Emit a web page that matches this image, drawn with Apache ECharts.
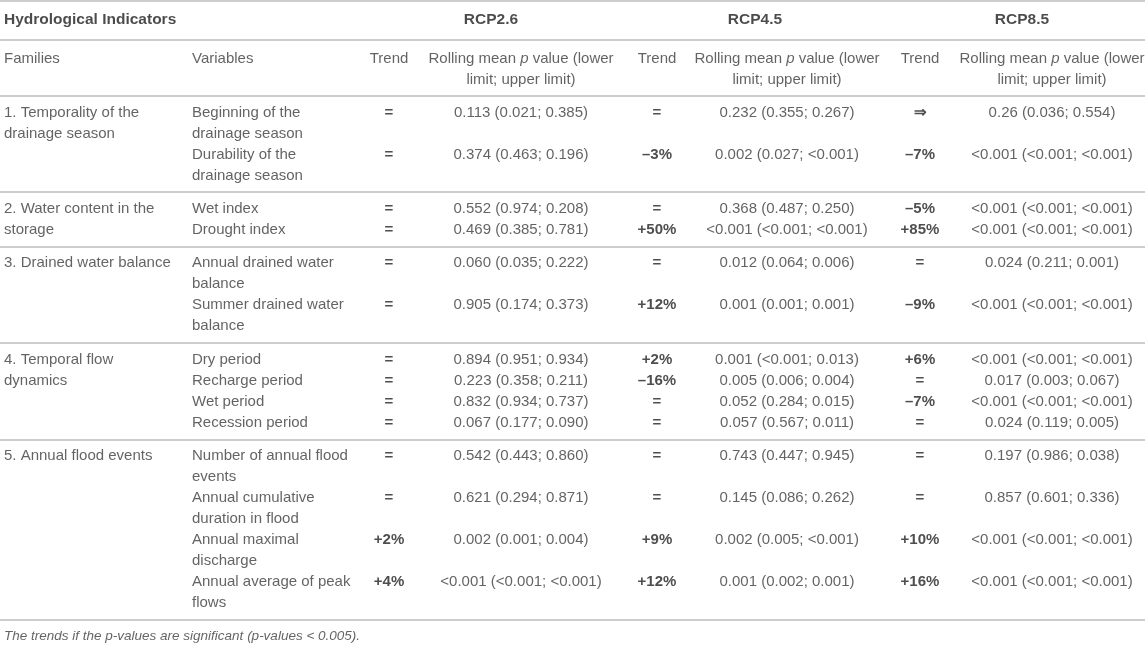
<!DOCTYPE html>
<html>
<head>
<meta charset="utf-8">
<script src="https://cdn.jsdelivr.net/npm/echarts@6/dist/echarts.min.js"></script>
<style>
  html, body { margin: 0; padding: 0; background: #fff; }
  #indicator-table { width: 1145px; height: 650px; }
</style>
</head>
<body>
<div id="indicator-table"></div>
<script>
var title_text = 'Hydrological Indicators';
var scenarios = ['RCP2.6', 'RCP4.5', 'RCP8.5'];
var column_heads = ['Families', 'Variables', 'Trend', 'Rolling mean {i|p} value (lower\nlimit; upper limit)'];

var families = [
  '1. Temporality of the\ndrainage season',
  '2. Water content in the\nstorage',
  '3. Drained water balance',
  '4. Temporal flow\ndynamics',
  '5. Annual flood events'
];
var variables = [
  'Beginning of the\ndrainage season', 'Durability of the\ndrainage season',
  'Wet index', 'Drought index',
  'Annual drained water\nbalance', 'Summer drained water\nbalance',
  'Dry period', 'Recharge period', 'Wet period', 'Recession period',
  'Number of annual flood\nevents', 'Annual cumulative\nduration in flood',
  'Annual maximal\ndischarge', 'Annual average of peak\nflows'
];
var family_of = [0, 0, 1, 1, 2, 2, 3, 3, 3, 3, 4, 4, 4, 4];

var trend_rcp26 = ['=', '=', '=', '=', '=', '=', '=', '=', '=', '=', '=', '=', '+2%', '+4%'];
var pvalue_rcp26 = [
  '0.113 (0.021; 0.385)', '0.374 (0.463; 0.196)',
  '0.552 (0.974; 0.208)', '0.469 (0.385; 0.781)',
  '0.060 (0.035; 0.222)', '0.905 (0.174; 0.373)',
  '0.894 (0.951; 0.934)', '0.223 (0.358; 0.211)', '0.832 (0.934; 0.737)', '0.067 (0.177; 0.090)',
  '0.542 (0.443; 0.860)', '0.621 (0.294; 0.871)', '0.002 (0.001; 0.004)', '<0.001 (<0.001; <0.001)'
];
var trend_rcp45 = ['=', '–3%', '=', '+50%', '=', '+12%', '+2%', '–16%', '=', '=', '=', '=', '+9%', '+12%'];
var pvalue_rcp45 = [
  '0.232 (0.355; 0.267)', '0.002 (0.027; <0.001)',
  '0.368 (0.487; 0.250)', '<0.001 (<0.001; <0.001)',
  '0.012 (0.064; 0.006)', '0.001 (0.001; 0.001)',
  '0.001 (<0.001; 0.013)', '0.005 (0.006; 0.004)', '0.052 (0.284; 0.015)', '0.057 (0.567; 0.011)',
  '0.743 (0.447; 0.945)', '0.145 (0.086; 0.262)', '0.002 (0.005; <0.001)', '0.001 (0.002; 0.001)'
];
var trend_rcp85 = ['⇒', '–7%', '–5%', '+85%', '=', '–9%', '+6%', '=', '–7%', '=', '=', '=', '+10%', '+16%'];
var pvalue_rcp85 = [
  '0.26 (0.036; 0.554)', '<0.001 (<0.001; <0.001)',
  '<0.001 (<0.001; <0.001)', '<0.001 (<0.001; <0.001)',
  '0.024 (0.211; 0.001)', '<0.001 (<0.001; <0.001)',
  '<0.001 (<0.001; <0.001)', '0.017 (0.003; 0.067)', '<0.001 (<0.001; <0.001)', '0.024 (0.119; 0.005)',
  '0.197 (0.986; 0.038)', '0.857 (0.601; 0.336)', '<0.001 (<0.001; <0.001)', '<0.001 (<0.001; <0.001)'
];
var footnote = 'The trends if the p-values are significant (p-values < 0.005).';

function draw_indicator_table() {
  var dom = document.getElementById('indicator-table');
  var chart = echarts.init(dom);

  // layout (pixels across, line units down)
  var line_h = 21;
  var pad = 0.795;
  var col_family = 4, col_variable = 192;
  var col_trend = [389, 657, 920];
  var col_value = [521, 787, 1052];
  var col_scenario = [491, 755, 1022];
  var trends = [trend_rcp26, trend_rcp45, trend_rcp85];
  var pvalues = [pvalue_rcp26, pvalue_rcp45, pvalue_rcp85];

  var font = 'Liberation Sans, Arial, Helvetica, sans-serif';
  var size = 15;
  var styles = {
    head: { align: 'left', fontWeight: 'bold', color: '#1e1e1e', fontSize: 15.5 },
    head_c: { align: 'center', fontWeight: 'bold', color: '#1e1e1e', fontSize: 15.5 },
    text: { align: 'left', color: '#3c3c3c' },
    text_c: { align: 'center', color: '#3c3c3c' },
    trend: { align: 'center', fontWeight: 'bold', color: '#222' },
    note: { align: 'left', fontStyle: 'italic', color: '#3c3c3c', fontSize: 13.5 }
  };

  var cells = [];
  var rules = [];
  function put(x, y, text, kind, step) {
    String(text).split('\n').forEach(function (t, i) {
      var st = styles[kind];
      cells.push({
        value: [x, y + i * (step || 1)],
        label: {
          formatter: t,
          align: st.align,
          fontWeight: st.fontWeight || 'normal',
          fontStyle: st.fontStyle || 'normal',
          fontSize: st.fontSize || size,
          color: st.color
        }
      });
    });
  }

  rules.push(0.05);
  put(col_family, 0.92, title_text, 'head');
  scenarios.forEach(function (s, k) { put(col_scenario[k], 0.92, s, 'head_c'); });
  rules.push(1.87);
  put(col_family, 2.82, column_heads[0], 'text');
  put(col_variable, 2.82, column_heads[1], 'text');
  scenarios.forEach(function (s, k) {
    put(col_trend[k], 2.82, column_heads[2], 'text_c');
    put(col_value[k], 2.82, column_heads[3], 'text_c', 0.99);
  });
  rules.push(4.56);

  var cursor = 4.56 + pad;
  families.forEach(function (fam, f) {
    put(col_family, cursor, fam, 'text');
    var last = cursor;
    for (var i = 0; i < variables.length; i++) {
      if (family_of[i] !== f) continue;
      put(col_variable, cursor, variables[i], 'text');
      for (var k = 0; k < scenarios.length; k++) {
        put(col_trend[k], cursor, trends[k][i], 'trend');
        put(col_value[k], cursor, pvalues[k][i], 'text_c');
      }
      var n = variables[i].split('\n').length;
      last = cursor + n - 1;
      cursor += n;
    }
    var rule = last + pad;
    rules.push(rule);
    cursor = rule + pad;
  });
  put(col_family, cursor, footnote, 'note');

  var option = {
    animation: false,
    grid: { left: 0, right: 0, top: 0, bottom: 0 },
    xAxis: { type: 'value', min: 0, max: dom.clientWidth, show: false },
    yAxis: { type: 'value', min: 0, max: dom.clientHeight / line_h, inverse: true, show: false },
    series: [{
      type: 'scatter',
      silent: true,
      symbolSize: 1,
      itemStyle: { color: 'rgba(0,0,0,0)' },
      label: {
        show: true,
        position: 'inside',
        verticalAlign: 'middle',
        fontFamily: font,
        fontSize: size,
        rich: {
          i: { fontStyle: 'italic', fontFamily: font, fontSize: size, color: '#3c3c3c' }
        }
      },
      data: cells,
      markLine: {
        silent: true,
        symbol: 'none',
        label: { show: false },
        lineStyle: { color: '#cdcdcd', width: 2, type: 'solid' },
        data: rules.map(function (y) { return { yAxis: y }; })
      }
    }]
  };
  chart.setOption(option);
  window.addEventListener('resize', function () {
    chart.resize();
  });
}

draw_indicator_table();
</script>
</body>
</html>
